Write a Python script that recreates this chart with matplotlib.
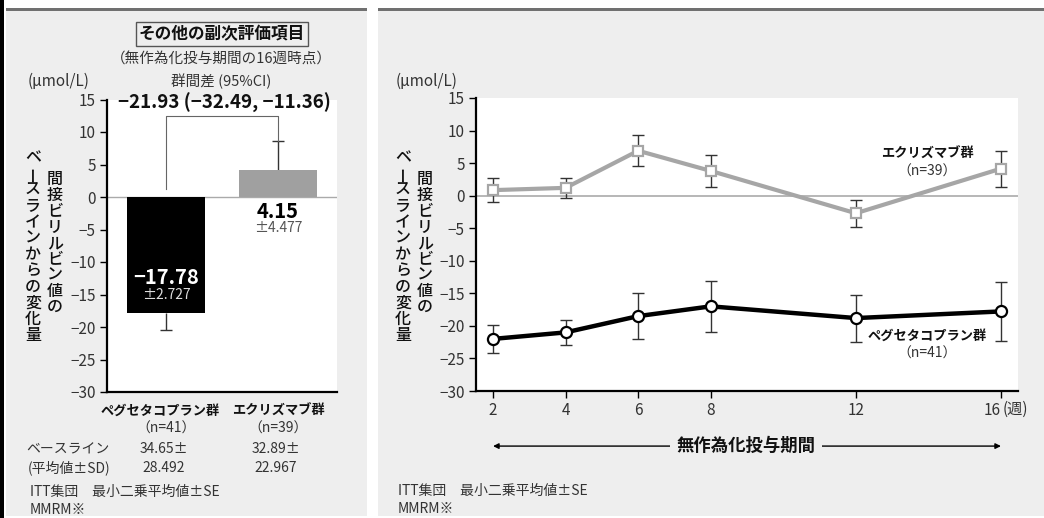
import matplotlib
matplotlib.use('Agg')
import matplotlib.pyplot as plt
from matplotlib.patches import Rectangle

plt.rcParams['font.family'] = ['Noto Sans CJK JP', 'DejaVu Sans']

W, H = 1044, 518

# left panel: week 16 change from baseline
groups = ['ペグセタコプラン群', 'エクリズマブ群']
group_n = ['（n=41）', '（n=39）']
wk16_mean = [-17.78, 4.15]
wk16_se = [2.727, 4.477]
baseline_mean = ['34.65±', '32.89±']
baseline_sd = ['28.492', '22.967']
diff_text = '−21.93 (−32.49, −11.36)'

# right panel: time course
weeks = [2, 4, 6, 8, 12, 16]
week_labels = ['2', '4', '6', '8', '12', '16']
peg_mean = [-22.0, -21.0, -18.5, -17.0, -18.8, -17.78]
peg_se = [2.1, 1.9, 3.5, 3.9, 3.6, 4.5]
ecu_mean = [0.85, 1.2, 6.9, 3.8, -2.7, 4.15]
ecu_se = [1.85, 1.5, 2.4, 2.45, 2.1, 2.75]

ylabel_1 = '間接ビリルビン値の'
ylabel_2 = 'ベースラインからの変化量'

TXT = '#333333'
PANEL = '#eeeeee'


def fx(px):
    return px / W


def fy(py):
    return 1 - py / H


def ftext(x, y, s, **kw):
    kw.setdefault('ha', 'center')
    kw.setdefault('va', 'center')
    kw.setdefault('color', TXT)
    return fig.text(fx(x), fy(y), s, **kw)


def vtext(x, y_top, s, step=16, size=11.5):
    # stacked vertical Japanese text, long vowel mark turned upright
    for i, ch in enumerate(s):
        rot = 90 if ch == 'ー' else 0
        ftext(x, y_top + step * (i + 0.5), ch, fontsize=size,
              fontweight='medium', rotation=rot, color='#111111')


def add_rect(x0, y0, x1, y1, color, z=-10):
    fig.add_artist(Rectangle((fx(x0), fy(y1)), fx(x1) - fx(x0), fy(y0) - fy(y1),
                             transform=fig.transFigure, color=color, zorder=z, lw=0))


def style_axes(ax):
    ax.set_facecolor('white')
    for s in ['top', 'right']:
        ax.spines[s].set_visible(False)
    for s in ['left', 'bottom']:
        ax.spines[s].set_linewidth(1.6)
        ax.spines[s].set_color('black')
    ax.tick_params(axis='both', direction='out', length=5, width=1, color='black',
                   labelsize=11, labelcolor=TXT, pad=3)
    ax.set_ylim(-30, 15)
    ax.set_yticks(range(-30, 16, 5))


fig = plt.figure(figsize=(W / 100, H / 100), dpi=100)
fig.patch.set_facecolor('white')

# panel backgrounds
add_rect(0, 0, 4, H, 'black')
add_rect(6, 11, 367, 516, PANEL)
add_rect(378, 11, W, 516, PANEL)
add_rect(6, 8, 367, 11, '#707070')
add_rect(378, 8, W, 11, '#707070')

# ---------- left panel ----------
ax1 = fig.add_axes([fx(107), fy(392), (337 - 107) / W, (392 - 99.5) / H])
style_axes(ax1)
ax1.set_xlim(-0.527, 1.527)
ax1.set_xticks([])
ax1.axhline(0, color='#aaaaaa', lw=1, zorder=1)
ax1.bar([0, 1], wk16_mean, width=0.69, color=['black', '#a0a0a0'], zorder=2)
# one-sided error bars
ax1.vlines(0, wk16_mean[0] - wk16_se[0], wk16_mean[0], color='#333333', lw=1, zorder=1.5)
ax1.hlines(wk16_mean[0] - wk16_se[0], -0.05, 0.05, color='#333333', lw=1)
ax1.vlines(1, wk16_mean[1], wk16_mean[1] + wk16_se[1], color='#333333', lw=1, zorder=1.5)
ax1.hlines(wk16_mean[1] + wk16_se[1], 0.95, 1.05, color='#333333', lw=1)
# comparison bracket
ax1.plot([0, 0, 1, 1], [1.3, 12.4, 12.4, wk16_mean[1] + wk16_se[1]],
         color='#666666', lw=0.8, zorder=3)

ax1.text(0, -12.4, '−%.2f' % abs(wk16_mean[0]), ha='center', va='center',
         color='white', fontsize=14.5, fontweight='bold', zorder=4)
ax1.text(0, -15.1, '±%.3f' % wk16_se[0], ha='center', va='center',
         color='#dddddd', fontsize=10, zorder=4)
ax1.text(1, -2.3, '%.2f' % wk16_mean[1], ha='center', va='center',
         color='black', fontsize=14.5, fontweight='bold', zorder=4)
ax1.text(1, -4.8, '±%.3f' % wk16_se[1], ha='center', va='center',
         color='#555555', fontsize=10, zorder=4)

ftext(222, 34, 'その他の副次評価項目', fontsize=12, fontweight='bold', color='#111111',
      bbox=dict(boxstyle='square,pad=0.2', fc='none', ec='#555555', lw=1))
ftext(221, 60, '（無作為化投与期間の16週時点）', fontsize=10.5)
ftext(28, 81, '(μmol/L)', fontsize=11, ha='left')
ftext(221, 81, '群間差 (95%CI)', fontsize=10.5)
ftext(224, 103, diff_text, fontsize=13.5, fontweight='bold', color='#111111')

vtext(33, 150, ylabel_2, step=16.1)
vtext(55, 172, ylabel_1, step=15.9)

for i, (g, n, bm, bs) in enumerate(zip(groups, group_n, baseline_mean, baseline_sd)):
    x = 166 + i * 112
    ftext(x - (6 if i == 0 else 0), 411, g, fontsize=9.5, fontweight='bold', color='#111111')
    ftext(x, 429, n, fontsize=10)
    ftext(x - 2, 449, bm, fontsize=10)
    ftext(x - 2, 468, bs, fontsize=10)
ftext(68, 449, 'ベースライン', fontsize=10)
ftext(69, 468, '(平均値±SD)', fontsize=10)
ftext(30, 492, 'ITT集団　最小二乗平均値±SE', fontsize=10, ha='left')
ftext(30, 510, 'MMRM※', fontsize=10, ha='left')

# ---------- right panel ----------
ax2 = fig.add_axes([fx(476), fy(391), (1018 - 476) / W, (391 - 98) / H])
style_axes(ax2)
ax2.set_xlim(1.53, 16.47)
ax2.set_xticks(weeks)
ax2.set_xticklabels(week_labels)
ax2.get_xticklabels()[-1].set_ha('right')
ax2.axhline(0, color='#aaaaaa', lw=1.2, zorder=1)

ax2.errorbar(weeks, ecu_mean, yerr=ecu_se, fmt='none', ecolor='#333333',
             elinewidth=1, capsize=4, capthick=1, zorder=2)
ax2.errorbar(weeks, peg_mean, yerr=peg_se, fmt='none', ecolor='#333333',
             elinewidth=1, capsize=4, capthick=1, zorder=2)
ax2.plot(weeks, ecu_mean, color='#a6a6a6', lw=3, marker='s', ms=6.5,
         mfc='white', mec='#a6a6a6', mew=1.6, zorder=3)
ax2.plot(weeks, peg_mean, color='black', lw=3.2, marker='o', ms=8,
         mfc='white', mec='black', mew=1.6, zorder=3)

ftext(1003, 409, '(週)', fontsize=11, ha='left')
ftext(396, 81, '(μmol/L)', fontsize=11, ha='left')
vtext(403, 150, ylabel_2, step=16.1)
vtext(425, 172, ylabel_1, step=15.9)

ftext(927, 154, groups[1], fontsize=9.5, fontweight='bold', color='#111111')
ftext(927, 172, group_n[1], fontsize=10)
ftext(927, 336, groups[0], fontsize=9.5, fontweight='bold', color='#111111')
ftext(927, 354, group_n[0], fontsize=10)

# treatment period arrow
ax2.annotate('', xy=(weeks[0], -0.188), xytext=(weeks[-1], -0.188),
             xycoords=ax2.get_xaxis_transform(), textcoords=ax2.get_xaxis_transform(),
             arrowprops=dict(arrowstyle='<|-|>', color='black', lw=1,
                             mutation_scale=8, shrinkA=0, shrinkB=0),
             annotation_clip=False)
ftext(746, 446, '無作為化投与期間', fontsize=12.5, fontweight='bold', color='#111111',
      bbox=dict(boxstyle='square,pad=0.35', fc=PANEL, ec='none'))

ftext(398, 491, 'ITT集団　最小二乗平均値±SE', fontsize=10, ha='left')
ftext(398, 509, 'MMRM※', fontsize=10, ha='left')

fig.savefig('out.png', dpi=100, facecolor='white')
